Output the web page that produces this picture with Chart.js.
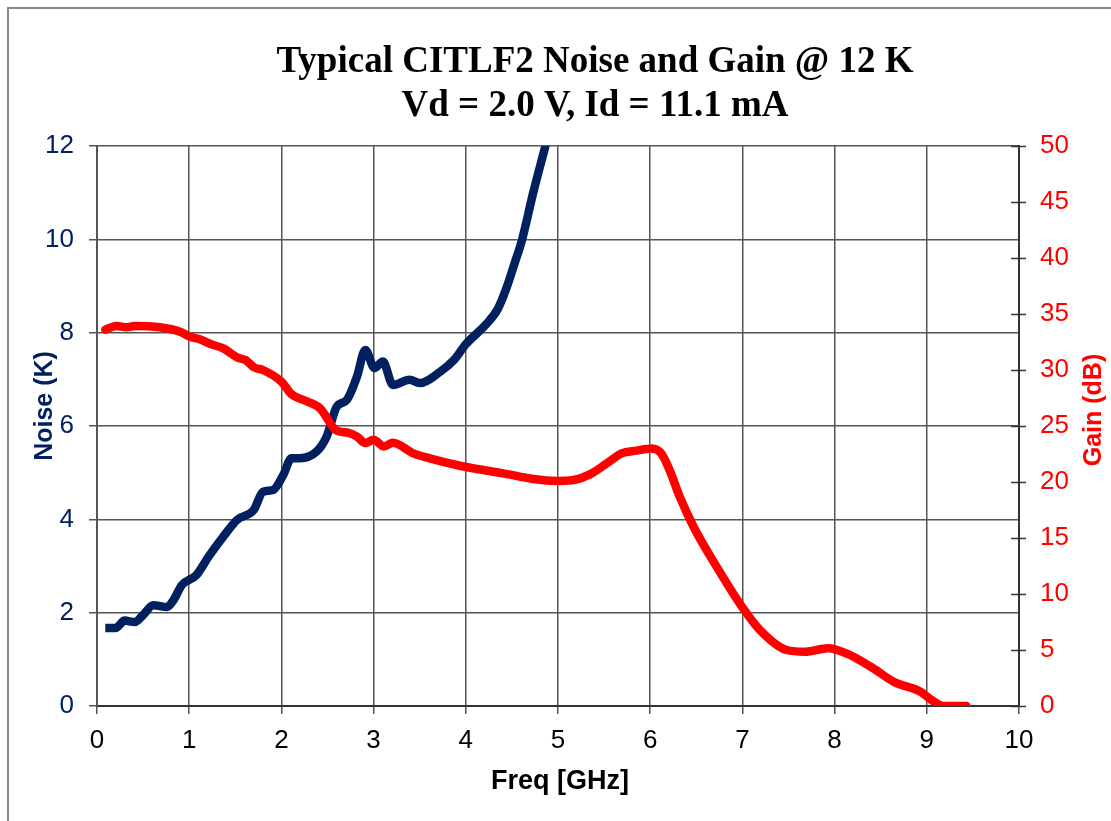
<!DOCTYPE html>
<html>
<head>
<meta charset="utf-8">
<script src="https://cdn.jsdelivr.net/npm/chart.js@4/dist/chart.umd.min.js"></script>
<style>
  html, body { margin: 0; padding: 0; background: #fff; overflow: hidden; }
  #wrap { position: relative; width: 1111px; height: 821px; }
</style>
</head>
<body>
<div id="wrap"><canvas id="c" width="1111" height="821"></canvas></div>
<script>
// ---- Data ----
const titleLines = ["Typical CITLF2 Noise and Gain @ 12 K", "Vd = 2.0 V, Id = 11.1 mA"];
const xTitle = "Freq [GHz]";
const yTitle = "Noise (K)";
const y1Title = "Gain (dB)";

const noiseFreq = [0.09, 0.2, 0.3, 0.41, 0.5, 0.61, 0.76, 0.83, 0.92, 1.08, 1.21, 1.37, 1.52, 1.7, 1.8, 1.91, 2.02, 2.11, 2.2, 2.38, 2.49, 2.6, 2.71, 2.82, 2.91, 3.01, 3.1, 3.21, 3.39, 3.5, 3.72, 3.87, 4.0, 4.23, 4.35, 4.44, 4.53, 4.61, 4.73, 4.87];
const noiseK    = [1.67, 1.67, 1.83, 1.80, 1.95, 2.16, 2.12, 2.27, 2.59, 2.81, 3.2, 3.63, 3.99, 4.2, 4.59, 4.63, 4.95, 5.31, 5.31, 5.45, 5.77, 6.41, 6.56, 7.06, 7.63, 7.24, 7.38, 6.88, 6.99, 6.92, 7.16, 7.41, 7.75, 8.2, 8.52, 8.95, 9.49, 9.99, 10.99, 12.05];

const gainFreq = [0.09, 0.21, 0.32, 0.41, 0.68, 0.9, 1.01, 1.12, 1.23, 1.37, 1.52, 1.61, 1.71, 1.8, 2.0, 2.11, 2.24, 2.42, 2.59, 2.73, 2.82, 2.91, 3.0, 3.11, 3.21, 3.43, 3.61, 3.9, 4.19, 4.41, 4.73, 4.99, 5.15, 5.35, 5.53, 5.69, 5.85, 6.02, 6.12, 6.21, 6.32, 6.47, 6.72, 6.97, 7.19, 7.48, 7.68, 7.93, 8.14, 8.42, 8.64, 8.93, 9.05, 9.18, 9.43];
const gainDB   = [33.6, 33.93, 33.81, 33.93, 33.81, 33.42, 32.97, 32.73, 32.32, 31.93, 31.13, 30.89, 30.21, 30.0, 28.96, 27.83, 27.32, 26.58, 24.64, 24.38, 24.05, 23.48, 23.78, 23.18, 23.51, 22.56, 22.11, 21.52, 21.07, 20.77, 20.27, 20.1, 20.15, 20.7, 21.67, 22.56, 22.8, 23.0, 22.56, 21.07, 18.69, 16.01, 12.44, 9.17, 6.79, 5.0, 4.85, 5.15, 4.65, 3.36, 2.17, 1.28, 0.54, 0.0, 0.0];

const xTicks = [0, 1, 2, 3, 4, 5, 6, 7, 8, 9, 10];
const yTicks = [0, 2, 4, 6, 8, 10, 12];
const y1Ticks = [0, 5, 10, 15, 20, 25, 30, 35, 40, 45, 50];

// ---- Styling ----
const NAVY = '#002060';
const RED = '#ff0000';
const GRID = '#555555';
const TICKFONT = { family: '"Liberation Sans", Arial, sans-serif', size: 26 };

const toPts = (xs, ys) => xs.map((x, i) => ({ x: x, y: ys[i] }));

const extras = {
  id: 'extras',
  beforeDraw(chart) {
    const ctx = chart.ctx;
    ctx.save();
    ctx.fillStyle = '#fff';
    ctx.fillRect(0, 0, chart.width, chart.height);
    ctx.strokeStyle = '#8a8a8a';
    ctx.lineWidth = 2;
    ctx.strokeRect(8, 8, 1300, 1000);
    ctx.restore();
  },
  afterDraw(chart) {
    const ctx = chart.ctx;
    const ca = chart.chartArea;
    const y1 = chart.scales.y1;
    ctx.save();
    // right axis ticks crossing axis line
    ctx.strokeStyle = '#333';
    ctx.lineWidth = 1.5;
    y1Ticks.forEach(v => {
      const py = Math.round(y1.getPixelForValue(v)) + 0.5;
      ctx.beginPath();
      ctx.moveTo(ca.right - 8, py);
      ctx.lineTo(ca.right + 7, py);
      ctx.stroke();
    });
    // titles
    ctx.fillStyle = '#000';
    ctx.textAlign = 'center';
    ctx.textBaseline = 'alphabetic';
    ctx.font = 'bold 37px "Liberation Serif", "Times New Roman", serif';
    ctx.fillText(titleLines[0], 595, 72);
    ctx.fillText(titleLines[1], 595, 116);
    // x title
    ctx.font = 'bold 27px "Liberation Sans", Arial, sans-serif';
    ctx.textBaseline = 'middle';
    ctx.fillText(xTitle, 560, 782);
    ctx.font = 'bold 25px "Liberation Sans", Arial, sans-serif';
    // y title
    ctx.save();
    ctx.translate(45, 406);
    ctx.rotate(-Math.PI / 2);
    ctx.fillStyle = NAVY;
    ctx.fillText(yTitle, 0, 0);
    ctx.restore();
    // y1 title
    ctx.save();
    ctx.translate(1094, 410);
    ctx.rotate(-Math.PI / 2);
    ctx.fillStyle = RED;
    ctx.fillText(y1Title, 0, 0);
    ctx.restore();
    ctx.restore();
  }
};

new Chart(document.getElementById('c'), {
  type: 'line',
  data: {
    datasets: [
      {
        label: 'Gain',
        data: toPts(gainFreq, gainDB),
        yAxisID: 'y1',
        borderColor: RED,
        borderWidth: 8.5,
        pointRadius: 0,
        tension: 0.4,
        cubicInterpolationMode: 'monotone',
        borderCapStyle: 'round',
        borderJoinStyle: 'round',
        order: 0
      },
      {
        label: 'Noise',
        data: toPts(noiseFreq, noiseK),
        yAxisID: 'y',
        borderColor: NAVY,
        borderWidth: 8.5,
        pointRadius: 0,
        tension: 0.4,
        cubicInterpolationMode: 'monotone',
        borderCapStyle: 'butt',
        borderJoinStyle: 'round',
        order: 1,
        clip: 0
      }
    ]
  },
  options: {
    responsive: false,
    animation: false,
    devicePixelRatio: 1,
    layout: { padding: { top: 146, left: 0, right: 0, bottom: 0 } },
    plugins: { legend: { display: false }, tooltip: { enabled: false }, title: { display: false } },
    scales: {
      x: {
        type: 'linear',
        min: 0, max: 10,
        afterFit: s => { s.height = 821 - 706; },
        afterBuildTicks: s => { s.ticks = xTicks.map(v => ({ value: v })); },
        grid: { color: GRID, lineWidth: 1.5, drawTicks: true, tickLength: 8, tickColor: GRID },
        border: { display: true, color: '#333', width: 2 },
        ticks: { color: '#000', font: TICKFONT, padding: 11, maxRotation: 0 }
      },
      y: {
        position: 'left',
        min: 0, max: 12,
        afterFit: s => { s.width = 97; },
        afterBuildTicks: s => { s.ticks = yTicks.map(v => ({ value: v })); },
        grid: { color: GRID, lineWidth: 1.5, drawTicks: true, tickLength: 8, tickColor: GRID },
        border: { display: true, color: '#555', width: 2 },
        ticks: { color: NAVY, font: TICKFONT, padding: 15 }
      },
      y1: {
        position: 'right',
        min: 0, max: 50,
        afterFit: s => { s.width = 1111 - 1019; },
        afterBuildTicks: s => { s.ticks = y1Ticks.map(v => ({ value: v })); },
        grid: { drawOnChartArea: false, drawTicks: false },
        border: { display: true, color: '#333', width: 2 },
        ticks: { color: RED, font: TICKFONT, padding: 21 }
      }
    }
  },
  plugins: [extras]
});
</script>
</body>
</html>
